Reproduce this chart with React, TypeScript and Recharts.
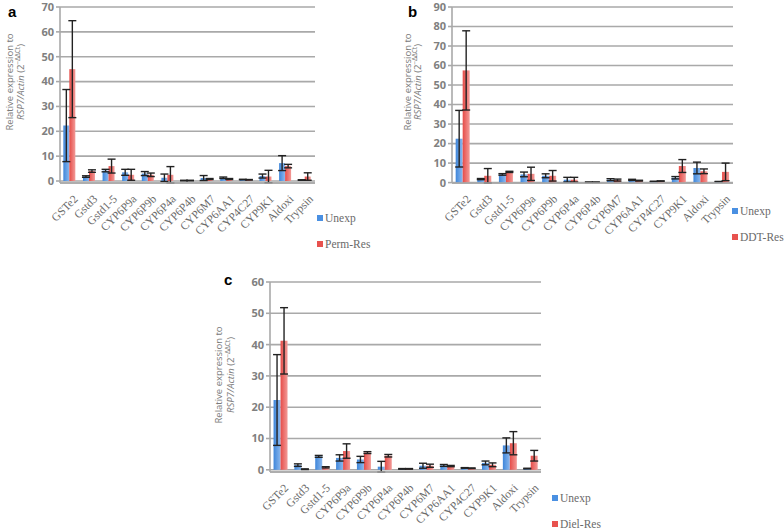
import React from 'react';
import { BarChart, Bar, XAxis, YAxis, CartesianGrid, ErrorBar } from 'recharts';

const categories = ['GSTe2', 'Gstd3', 'Gstd1-5', 'CYP6P9a', 'CYP6P9b', 'CYP6P4a', 'CYP6P4b', 'CYP6M7', 'CYP6AA1', 'CYP4C27', 'CYP9K1', 'Aldoxi', 'Trypsin'];

const unexpA = [22.3, 1.8, 4.2, 3.5, 3.0, 1.3, 0.2, 1.2, 1.3, 0.6, 2.0, 7.2, 0.4];
const unexpAErr = [14.5, 0.3, 0.5, 1.2, 0.8, 1.5, 0.1, 1.0, 0.3, 0.1, 0.8, 3.0, 0.1];
const permA = [45, 4.0, 6.0, 2.5, 2.5, 2.5, 0.2, 0.8, 0.8, 0.5, 1.8, 6.0, 1.8];
const permAErr = [19.5, 0.5, 2.8, 2.2, 0.7, 3.3, 0.1, 0.2, 0.2, 0.1, 2.5, 0.7, 1.5];

const unexpB = [22.5, 1.8, 4.2, 4.2, 3.5, 1.5, 0.2, 1.5, 1.4, 0.6, 2.5, 7.5, 0.5];
const unexpBErr = [14.5, 0.3, 0.4, 1.2, 1.0, 1.2, 0.1, 0.5, 0.3, 0.1, 0.6, 3.0, 0.1];
const ddtB = [57.5, 3.5, 5.5, 4.5, 3.5, 1.5, 0.2, 1.3, 1.0, 0.8, 8.5, 5.8, 5.5];
const ddtBErr = [20.3, 3.7, 0.3, 3.4, 2.7, 1.2, 0.1, 0.5, 0.2, 0.1, 3.3, 1.2, 4.5];

const unexpC = [22.3, 1.5, 4.3, 3.8, 3.3, 1.0, 0.3, 1.3, 1.4, 0.6, 2.2, 7.8, 0.4];
const unexpCErr = [14.5, 0.4, 0.3, 1.0, 1.0, 1.7, 0.1, 0.8, 0.3, 0.1, 0.6, 2.4, 0.1];
const dielC = [41.2, 0.2, 0.8, 6.0, 5.5, 4.5, 0.3, 1.3, 1.2, 0.5, 1.6, 8.5, 4.5];
const dielCErr = [10.6, 0.1, 0.2, 2.3, 0.3, 0.4, 0.1, 0.5, 0.2, 0.1, 0.6, 3.7, 1.7];

const ticksA = [0, 10, 20, 30, 40, 50, 60, 70];
const ticksB = [0, 10, 20, 30, 40, 50, 60, 70, 80, 90];
const ticksC = [0, 10, 20, 30, 40, 50, 60];

const build = (u: number[], ue: number[], r: number[], re: number[]) =>
  categories.map((c, i) => ({ name: c, unexp: u[i], unexpErr: ue[i], res: r[i], resErr: re[i] }));

const GRID = '#a9a9a9';
const TXT = '#808080';

const XTick = (props: any) => {
  const { x, y, payload } = props;
  return (
    <g transform={`translate(${x + 3},${y + 3})`}>
      <text transform="rotate(-45)" textAnchor="end" dy="0.7em" fontSize={11.5}
        fontFamily="Liberation Serif, serif" fill="#6a6a6a">{payload.value}</text>
    </g>
  );
};

const YTitle = ({ x1, x2, cy }: { x1: number; x2: number; cy: number }) => (
  <g fontFamily="Open Sans, sans-serif" fontSize={9.5} fill="#7a7a7a">
    <text transform={`translate(${x1},${cy}) rotate(-90)`} textAnchor="middle">Relative expression to</text>
    <text transform={`translate(${x2},${cy}) rotate(-90)`} textAnchor="middle">
      <tspan fontStyle="italic">RSP7/Actin</tspan> (2<tspan fontSize={6.5} dy={-4}>−ΔΔCt</tspan><tspan dy={4}>)</tspan>
    </text>
  </g>
);

type PanelProps = {
  data: any[];
  width: number;
  height: number;
  yWidth: number;
  margin: { top: number; right: number; bottom: number; left: number };
  ticks: number[];
  xHeight: number;
  resName: string;
  id: string;
  titleX1: number;
  titleX2: number;
  titleCy: number;
};

const Panel = (p: PanelProps) => (
  <BarChart width={p.width} height={p.height} data={p.data} margin={p.margin}
    barCategoryGap="17%" barGap={0}>
    <defs>
      <linearGradient id={`blue${p.id}`} x1="0" y1="0" x2="1" y2="0">
        <stop offset="0%" stopColor="#3f86da" />
        <stop offset="100%" stopColor="#8ab8ee" />
      </linearGradient>
      <linearGradient id={`red${p.id}`} x1="0" y1="0" x2="1" y2="0">
        <stop offset="0%" stopColor="#e64c48" />
        <stop offset="100%" stopColor="#f29a97" />
      </linearGradient>
    </defs>
    <CartesianGrid vertical={false} stroke={GRID} strokeWidth={1.6} />
    <XAxis dataKey="name" interval={0} tick={<XTick />} tickLine={false}
      stroke={GRID} strokeWidth={1.6} height={p.xHeight} />
    <YAxis width={p.yWidth} domain={[0, p.ticks[p.ticks.length - 1]]} ticks={p.ticks}
      interval={0} stroke={GRID} strokeWidth={1.6} tickSize={4}
      tick={{ fill: TXT, fontSize: 11, fontWeight: 700, fontFamily: 'Open Sans, sans-serif' }}
      label={{ content: () => <YTitle x1={p.titleX1} x2={p.titleX2} cy={p.titleCy} /> }} />
    <Bar dataKey="unexp" name="Unexp" fill={`url(#blue${p.id})`} isAnimationActive={false}>
      <ErrorBar dataKey="unexpErr" width={4} stroke="#222" strokeWidth={1.4} />
    </Bar>
    <Bar dataKey="res" name={p.resName} fill={`url(#red${p.id})`} isAnimationActive={false}>
      <ErrorBar dataKey="resErr" width={4} stroke="#222" strokeWidth={1.4} />
    </Bar>
  </BarChart>
);

const LegendBox = ({ left, top, resName }: { left: number; top: number; resName: string }) => (
  <div style={{ position: 'absolute', left, top, fontFamily: 'Liberation Serif, serif', fontSize: 11.5, color: '#6a6a6a', whiteSpace: 'nowrap' }}>
    <div style={{ display: 'flex', alignItems: 'center', height: 14 }}>
      <span style={{ width: 6, height: 6, background: '#4a90e2', marginRight: 2, display: 'inline-block' }} />Unexp
    </div>
    <div style={{ display: 'flex', alignItems: 'center', height: 14, marginTop: 12 }}>
      <span style={{ width: 6, height: 6, background: '#e8524e', marginRight: 2, display: 'inline-block' }} />{resName}
    </div>
  </div>
);

const Letter = ({ left, top, ch }: { left: number; top: number; ch: string }) => (
  <div style={{ position: 'absolute', left, top, fontFamily: 'Liberation Sans, Arial, sans-serif', fontWeight: 700, fontSize: 15, lineHeight: '15px', color: '#000' }}>{ch}</div>
);

export default function App() {
  const dataA = build(unexpA, unexpAErr, permA, permAErr);
  const dataB = build(unexpB, unexpBErr, ddtB, ddtBErr);
  const dataC = build(unexpC, unexpCErr, dielC, dielCErr);
  return (
    <div style={{ position: 'absolute', left: 0, top: 0, width: 784, height: 532, background: '#fff', overflow: 'hidden' }}>
      <div style={{ position: 'absolute', left: 0, top: 0 }}>
        <Panel id="a" data={dataA} width={400} height={260} yWidth={60} xHeight={70}
          margin={{ top: 7, right: 85, bottom: 7, left: 0 }} ticks={ticksA} resName="Perm-Res"
          titleX1={13} titleX2={24} titleCy={82} />
      </div>
      <div style={{ position: 'absolute', left: 400, top: -5 }}>
        <Panel id="b" data={dataB} width={384} height={265} yWidth={52} xHeight={70}
          margin={{ top: 12, right: 51, bottom: 7, left: 0 }} ticks={ticksB} resName="DDT-Res"
          titleX1={11} titleX2={21} titleCy={87} />
      </div>
      <div style={{ position: 'absolute', left: 200, top: 270 }}>
        <Panel id="c" data={dataC} width={400} height={262} yWidth={70} xHeight={55}
          margin={{ top: 12, right: 59, bottom: 5, left: 0 }} ticks={ticksC} resName="Diel-Res"
          titleX1={22} titleX2={34} titleCy={105} />
      </div>
      <Letter left={8} top={4} ch="a" />
      <Letter left={408} top={4} ch="b" />
      <Letter left={224} top={272} ch="c" />
      <LegendBox left={317} top={211} resName="Perm-Res" />
      <LegendBox left={732} top={204} resName="DDT-Res" />
      <LegendBox left={552} top={491} resName="Diel-Res" />
    </div>
  );
}
